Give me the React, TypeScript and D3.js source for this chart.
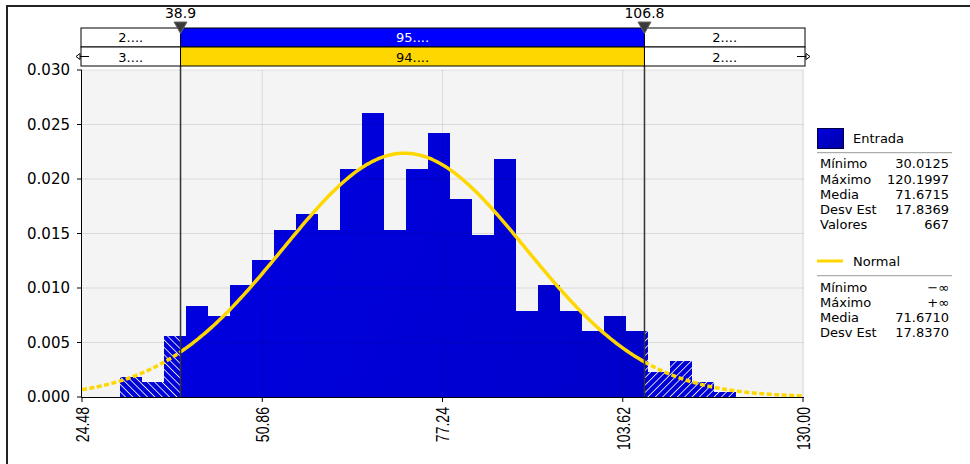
import React from 'react';
import * as d3 from 'd3';

// histogram densities (28 bins between min and max)
const dataMin = 30.0125;
const dataMax = 120.1997;
const densities = [
  0.00186, 0.0014, 0.00559, 0.00838, 0.00745, 0.01024, 0.01257, 0.01536,
  0.01676, 0.01536, 0.02095, 0.02607, 0.01536, 0.02095, 0.0242, 0.01815,
  0.0149, 0.02188, 0.00791, 0.01024, 0.00791, 0.00605, 0.00745, 0.00605,
  0.00233, 0.00326, 0.0014, 0.00047,
];

const normalMean = 71.671;
const normalSd = 17.837;

const lowerCut = 38.9;
const upperCut = 106.8;

const xTicks = [24.48, 50.86, 77.24, 103.62, 130.0];
const yTicks = [0, 0.005, 0.01, 0.015, 0.02, 0.025, 0.03];

const topRow1 = ['2....', '95....', '2....'];
const topRow2 = ['3....', '94....', '2....'];

const entradaStats = [
  ['Mínimo', '30.0125'],
  ['Máximo', '120.1997'],
  ['Media', '71.6715'],
  ['Desv Est', '17.8369'],
  ['Valores', '667'],
];
const normalStats = [
  ['Mínimo', '−∞'],
  ['Máximo', '+∞'],
  ['Media', '71.6710'],
  ['Desv Est', '17.8370'],
];

const W = 970;
const H = 464;
const left = 82;
const right = 803;
const top = 70;
const bottom = 397;

const font = 'DejaVu Sans, Verdana, sans-serif';

export default function App() {
  const x = d3.scaleLinear().domain([24.48, 130]).range([left, right]);
  const y = d3.scaleLinear().domain([0, 0.03]).range([bottom, top]);

  const binW = (dataMax - dataMin) / densities.length;

  // split each bin at the two cut values
  const pieces: { x0: number; x1: number; v: number; kind: string }[] = [];
  densities.forEach((v, i) => {
    const a = dataMin + i * binW;
    const b = a + binW;
    const parts: [number, number, string][] = [
      [a, Math.min(b, lowerCut), 'low'],
      [Math.max(a, lowerCut), Math.min(b, upperCut), 'mid'],
      [Math.max(a, upperCut), b, 'high'],
    ];
    parts.forEach(([p0, p1, k]) => {
      if (p1 > p0) pieces.push({ x0: p0, x1: p1, v, kind: k });
    });
  });

  const pdf = (t: number) =>
    Math.exp(-0.5 * ((t - normalMean) / normalSd) ** 2) / (normalSd * Math.sqrt(2 * Math.PI));

  const line = d3
    .line<number>()
    .x((t) => x(t))
    .y((t) => y(pdf(t)))
    .curve(d3.curveMonotoneX);

  const seg = (a: number, b: number) => line([...d3.range(a, b, 0.25), b]) || '';

  const fillFor = (k: string) =>
    k === 'mid' ? 'url(#barGrad)' : k === 'low' ? 'url(#hatchLow)' : 'url(#hatchHigh)';

  const xl = x(lowerCut);
  const xu = x(upperCut);
  const boxL = 81;
  const boxR = 805;
  const segs = [
    [boxL, xl],
    [xl, xu],
    [xu, boxR],
  ];

  return (
    <svg
      width={W}
      height={H}
      style={{ position: 'absolute', left: 0, top: 0, background: '#fff' }}
      fontFamily={font}
    >
      <defs>
        <linearGradient id="barGrad" gradientUnits="userSpaceOnUse" x1={left} y1={top} x2={right} y2={bottom}>
          <stop offset="0" stopColor="#0000e8" />
          <stop offset="1" stopColor="#0000c4" />
        </linearGradient>
        <linearGradient id="swatchGrad" x1="0" y1="0" x2="1" y2="1">
          <stop offset="0" stopColor="#0000e0" />
          <stop offset="1" stopColor="#0000a8" />
        </linearGradient>
        <pattern id="hatchLow" patternUnits="userSpaceOnUse" width="5.2" height="5.2" patternTransform="rotate(-45)">
          <rect width="5.2" height="5.2" fill="#0000d8" />
          <line x1="0" y1="0" x2="0" y2="5.2" stroke="#fff" strokeWidth="1.6" />
        </pattern>
        <pattern id="hatchHigh" patternUnits="userSpaceOnUse" width="5.2" height="5.2" patternTransform="rotate(45)">
          <rect width="5.2" height="5.2" fill="#0000d8" />
          <line x1="0" y1="0" x2="0" y2="5.2" stroke="#fff" strokeWidth="1.6" />
        </pattern>
      </defs>

      {/* outer frame */}
      <path d={`M7,${H} V6 H${W}`} fill="none" stroke="#222" strokeWidth={2} />

      {/* plot background */}
      <rect x={left} y={top} width={right - left + 1} height={bottom - top} fill="#f4f4f4" />

      {/* bars */}
      {pieces.map((p, i) => (
        <rect
          key={i}
          x={x(p.x0)}
          y={y(p.v)}
          width={x(p.x1) - x(p.x0)}
          height={bottom - y(p.v)}
          fill={fillFor(p.kind)}
          shapeRendering="crispEdges"
        />
      ))}

      {/* grid on top, translucent */}
      {yTicks.slice(1).map((t) => (
        <line key={'gy' + t} x1={left} x2={right + 1} y1={y(t)} y2={y(t)} stroke="rgba(0,0,0,0.1)" />
      ))}
      {xTicks.slice(1).map((t) => (
        <line key={'gx' + t} x1={x(t)} x2={x(t)} y1={top} y2={bottom} stroke="rgba(0,0,0,0.1)" />
      ))}

      {/* normal curve */}
      <path d={seg(24.48, lowerCut)} fill="none" stroke="#ffd700" strokeWidth={3.5} strokeDasharray="5,2.5" />
      <path d={seg(lowerCut, upperCut)} fill="none" stroke="#ffd700" strokeWidth={3.5} />
      <path d={seg(upperCut, 130)} fill="none" stroke="#ffd700" strokeWidth={3.5} strokeDasharray="5,2.5" />

      {/* cut lines */}
      {[xl, xu].map((cx, i) => (
        <line key={'cut' + i} x1={cx} x2={cx} y1={28} y2={bottom} stroke="#333" strokeWidth={1.5} />
      ))}

      {/* axes */}
      <line x1={left - 0.5} x2={left - 0.5} y1={top} y2={bottom} stroke="#000" />
      <line x1={left - 0.5} x2={right + 1} y1={bottom + 0.5} y2={bottom + 0.5} stroke="#000" />
      {yTicks.map((t) => (
        <g key={'yt' + t}>
          <line x1={left - 5} x2={left} y1={y(t)} y2={y(t)} stroke="#000" />
          <text x={left - 12} y={y(t)} dy="0.36em" textAnchor="end" fontSize={15} fill="#000">
            {t.toFixed(3)}
          </text>
        </g>
      ))}
      {xTicks.map((t) => (
        <g key={'xt' + t}>
          <line x1={x(t)} x2={x(t)} y1={bottom} y2={bottom + 5} stroke="#000" />
          <text
            transform={`translate(${x(t)},${bottom + 10}) rotate(-90) scale(0.74,1)`}
            dy="0.36em"
            textAnchor="end"
            fontSize={19}
            fontFamily="Liberation Sans, Arial, sans-serif"
            fill="#000"
          >
            {t.toFixed(2)}
          </text>
        </g>
      ))}

      {/* top percentage bars */}
      {segs.map(([a, b], i) => (
        <g key={'r1' + i}>
          <rect x={a} y={28} width={b - a} height={19} fill={i === 1 ? '#0000ff' : '#fff'} stroke="#000" />
          <text x={(a + b) / 2} y={42} textAnchor="middle" fontSize={13} fill={i === 1 ? '#fff' : '#000'}>
            {topRow1[i]}
          </text>
          <rect x={a} y={47} width={b - a} height={19} fill={i === 1 ? '#ffd700' : '#fff'} stroke="#000" />
          <text x={(a + b) / 2} y={61.5} textAnchor="middle" fontSize={13} fill="#000">
            {topRow2[i]}
          </text>
        </g>
      ))}
      {/* infinity arrows */}
      <g stroke="#000" fill="#fff">
        <line x1={boxL - 4} x2={boxL + 8} y1={56.5} y2={56.5} />
        <path d={`M${boxL - 5},56.5 l4,-3 v6 z`} />
        <line x1={boxR - 8} x2={boxR + 4} y1={56.5} y2={56.5} />
        <path d={`M${boxR + 5},56.5 l-4,-3 v6 z`} />
      </g>

      {/* cut markers */}
      {[
        [xl, lowerCut],
        [xu, upperCut],
      ].map(([cx, v], i) => (
        <g key={'mk' + i}>
          <path d={`M${cx - 6.5},22 H${cx + 6.5} L${cx},33.5 Z`} fill="#3a3a3a" stroke="#666" />
          <text x={cx} y={18.3} textAnchor="middle" fontSize={14} fill="#000">
            {v.toFixed(1)}
          </text>
        </g>
      ))}

      {/* legend */}
      <rect x={817.5} y={128.5} width={26} height={20} fill="url(#swatchGrad)" stroke="#000040" />
      <text x={853} y={142.7} fontSize={13} fill="#000">Entrada</text>
      <line x1={817} x2={952} y1={152.7} y2={152.7} stroke="#999" />
      {entradaStats.map(([k, v], i) => (
        <g key={'es' + i}>
          <text x={820} y={168.3 + i * 15.25} fontSize={13} fill="#000">{k}</text>
          <text x={949} y={168.3 + i * 15.25} fontSize={13} textAnchor="end" fill="#000">{v}</text>
        </g>
      ))}
      <line x1={817} x2={843} y1={261} y2={261} stroke="#ffd700" strokeWidth={3} />
      <text x={853} y={265.7} fontSize={13} fill="#000">Normal</text>
      <line x1={817} x2={952} y1={275.7} y2={275.7} stroke="#999" />
      {normalStats.map(([k, v], i) => (
        <g key={'ns' + i}>
          <text x={820} y={291.7 + i * 15} fontSize={13} fill="#000">{k}</text>
          <text x={949} y={291.7 + i * 15} fontSize={13} textAnchor="end" fill="#000">{v}</text>
        </g>
      ))}
    </svg>
  );
}
